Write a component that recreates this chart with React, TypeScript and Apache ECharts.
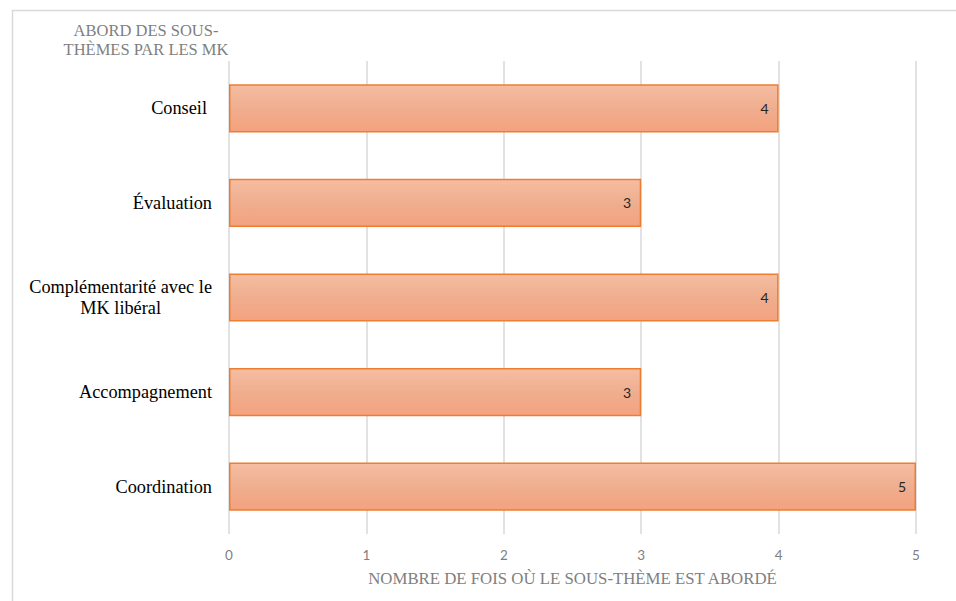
import React, { useEffect, useRef } from "react";
import * as echarts from "echarts";

const categories = ["Conseil", "Évaluation", "Complémentarité avec le\nMK libéral", "Accompagnement", "Coordination"];
const values = [4, 3, 4, 3, 5];
const xTicks = [0, 1, 2, 3, 4, 5];
const yTitle = "ABORD DES SOUS-\nTHÈMES PAR LES MK";
const xTitle = "NOMBRE DE FOIS OÙ LE SOUS-THÈME EST ABORDÉ";

const SERIF = "'Liberation Serif', 'DejaVu Serif', serif";
const SANS = "Lato, 'Open Sans', sans-serif";

export default function App() {
  const ref = useRef<HTMLDivElement>(null);
  useEffect(() => {
    if (!ref.current) return;
    const chart = echarts.init(ref.current, null, { renderer: "svg" });
    chart.setOption({
      animation: false,
      backgroundColor: "#ffffff",
      graphic: [
        {
          type: "rect",
          shape: { x: 12.5, y: 10.5, width: 1000, height: 700 },
          style: { fill: "none", stroke: "#D9D9D9", lineWidth: 1.5 },
          silent: true,
        },
        {
          type: "text",
          x: 146,
          y: 21,
          style: {
            text: yTitle,
            textAlign: "center",
            fill: "#7F7F7F",
            font: `16.5px ${SERIF}`,
            lineHeight: 19,
          },
        },
      ],
      grid: { left: 229, right: 40, top: 61, bottom: 67, containLabel: false },
      xAxis: {
        type: "value",
        min: 0,
        max: 5,
        interval: 1,
        name: xTitle,
        nameLocation: "middle",
        nameGap: 36,
        nameTextStyle: { color: "#7F7F7F", fontFamily: SERIF, fontSize: 16.8 },
        axisLine: { show: false },
        axisTick: { show: false },
        axisLabel: {
          color: "#7F7F7F",
          fontFamily: SANS,
          fontSize: 13.5,
          margin: 14,
          formatter: (v: number) => (xTicks.includes(v) ? String(v) : ""),
        },
        splitLine: { show: true, lineStyle: { color: "#D9D9D9", width: 1.5 } },
      },
      yAxis: {
        type: "category",
        data: categories,
        inverse: true,
        axisLine: { show: false },
        axisTick: { show: false },
        axisLabel: {
          margin: 17,
          align: "right",
          formatter: (v: string, i: number) => {
            const parts = v.split("\n");
            if (parts.length === 1) return i === 0 ? `{p|${v}}` : `{a|${v}}`;
            return `{a|${parts[0]}}\n{c|${parts[1]}}`;
          },
          rich: {
            a: { color: "#000000", fontFamily: SERIF, fontSize: 18.3, lineHeight: 21 },
            p: { color: "#000000", fontFamily: SERIF, fontSize: 18.3, lineHeight: 21, padding: [0, 5, 0, 0] },
            c: { color: "#000000", fontFamily: SERIF, fontSize: 18.3, lineHeight: 21, align: "center" },
          },
        },
      },
      series: [
        {
          type: "bar",
          data: values,
          barCategoryGap: "49%",
          itemStyle: {
            color: new echarts.graphic.LinearGradient(0, 0, 0, 1, [
              { offset: 0, color: "#F6BDA2" },
              { offset: 0.5, color: "#EFAE8F" },
              { offset: 1, color: "#F4A27E" },
            ]),
            borderColor: "#ED7D31",
            borderWidth: 1.5,
          },
          label: {
            show: true,
            position: "insideRight",
            distance: 10,
            color: "#262626",
            fontFamily: SANS,
            fontSize: 14,
          },
        },
      ],
    });
    return () => chart.dispose();
  }, []);
  return <div ref={ref} style={{ position: "fixed", left: 0, top: 0, width: 956, height: 601 }} />;
}
